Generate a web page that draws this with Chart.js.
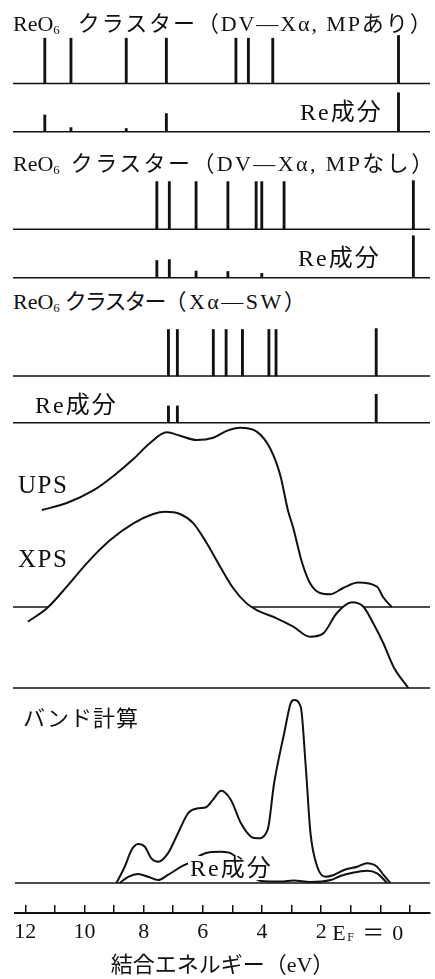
<!DOCTYPE html>
<html>
<head>
<meta charset="utf-8">
<script src="https://cdn.jsdelivr.net/npm/chart.js@4.4.0/dist/chart.umd.min.js"></script>
<style>
  body { margin: 0; background: #fff; }
  #fig { position: relative; width: 435px; height: 979px; overflow: hidden; background: #fff; }
  #fig canvas { position: absolute; left: 0; }
  .lbl { position: absolute; z-index: 2; white-space: nowrap; color: #111;
         font: 22px/22px 'Liberation Serif', 'Noto Sans CJK JP', serif; }
  .lbl sub { font-size: 13px; vertical-align: baseline; position: relative; top: 3px; }
  .big { font-size: 25px; line-height: 25px; letter-spacing: 1.5px; }
  .re { font-size: 24px; line-height: 24px; letter-spacing: 2px; }
</style>
</head>
<body>
<div id="fig">
  <canvas id="cDvMp"></canvas>
  <canvas id="cDvMpRe"></canvas>
  <canvas id="cDvNo"></canvas>
  <canvas id="cDvNoRe"></canvas>
  <canvas id="cSw"></canvas>
  <canvas id="cSwRe"></canvas>
  <canvas id="cSpec"></canvas>
  <canvas id="cBand"></canvas>

  <div class="lbl" style="left:13px;top:13px">ReO<sub>6</sub><span style="margin-left:18px;letter-spacing:1.9px">クラスター（DV—Xα, MPあり）</span></div>
  <div class="lbl re" style="left:300px;top:100px">Re成分</div>
  <div class="lbl" style="left:13px;top:153px">ReO<sub>6</sub><span style="margin-left:11px;letter-spacing:2.4px">クラスター（DV—Xα, MPなし）</span></div>
  <div class="lbl re" style="left:298px;top:246px">Re成分</div>
  <div class="lbl" style="left:13px;top:291px">ReO<sub>6</sub><span style="margin-left:5px;letter-spacing:-2px">クラスター</span><span style="letter-spacing:2.5px">（Xα—SW）</span></div>
  <div class="lbl re" style="left:35px;top:393px">Re成分</div>
  <div class="lbl big" style="left:18px;top:472px">UPS</div>
  <div class="lbl big" style="left:18px;top:546px">XPS</div>
  <div class="lbl" style="left:23px;top:708px;letter-spacing:1px">バンド計算</div>
  <div class="lbl re" style="left:188px;top:856px;background:#fff;padding:0 2px">Re成分</div>
</div>
<script>
// binding energy axis (eV), drawn reversed: high energy on the left
const tickValues = [12, 11, 10, 9, 8, 7, 6, 5, 4, 3, 2, 1, 0, -1];
const labeledTicks = [12, 10, 8, 6, 4, 2];
const axisTitle = '結合エネルギー（eV）';

// ReO6 cluster, DV-Xα with MP
const dvMpLevels = [11.28, 10.40, 8.54, 7.19, 4.85, 4.43, 3.61, -0.62];
const dvMpTotal  = [1.00, 1.00, 1.00, 1.00, 1.00, 1.00, 1.00, 1.06];
const dvMpRe     = [0.37, 0.09, 0.07, 0.40, 0, 0, 0, 0.86];

// ReO6 cluster, DV-Xα without MP
const dvNoLevels = [7.51, 7.09, 6.19, 5.12, 4.17, 3.98, 3.23, -1.12];
const dvNoTotal  = [1.00, 1.00, 1.00, 1.00, 1.00, 1.00, 1.00, 1.02];
const dvNoRe     = [0.36, 0.38, 0.14, 0.13, 0, 0.09, 0, 0.88];

// ReO6 cluster, Xα-SW
const swLevels = [7.12, 6.82, 5.61, 5.18, 4.63, 3.74, 3.50, 0.13];
const swTotal  = [1.00, 1.00, 1.00, 1.00, 1.00, 1.00, 1.00, 1.02];
const swRe     = [0.36, 0.36, 0, 0, 0, 0, 0, 0.61];

// photoemission spectra
const upsEnergy = [11.38, 10.54, 9.65, 8.97, 8.30, 7.74, 7.18, 6.73, 6.17, 5.61, 5.16, 4.71, 4.15, 3.70, 3.36, 3.10, 2.93, 2.62, 2.36, 2.02, 1.68, 1.24, 0.74, 0.10, -0.10, -0.39];
const upsIntensity = [0.541, 0.580, 0.650, 0.731, 0.825, 0.915, 0.974, 0.955, 0.931, 0.944, 0.982, 1.0, 0.978, 0.885, 0.736, 0.54, 0.446, 0.245, 0.134, 0.078, 0.071, 0.106, 0.136, 0.113, 0.056, 0];
const xpsEnergy = [11.85, 11.21, 10.54, 9.87, 9.08, 8.30, 7.63, 7.23, 6.73, 6.28, 5.83, 5.38, 4.94, 4.49, 4.15, 3.48, 2.92, 2.36, 1.91, 1.46, 0.95, 0.56, 0.23, -0.11, -0.45, -0.95];
const xpsIntensity = [0.376, 0.452, 0.575, 0.707, 0.839, 0.934, 0.987, 1.0, 0.987, 0.934, 0.821, 0.688, 0.566, 0.480, 0.442, 0.395, 0.348, 0.291, 0.310, 0.424, 0.486, 0.461, 0.367, 0.254, 0.121, 0];

// band calculation: total DOS and Re component
const bandEnergy = [8.92, 8.64, 8.41, 8.19, 7.96, 7.74, 7.51, 7.18, 6.84, 6.50, 6.17, 5.89, 5.66, 5.38, 5.05, 4.71, 4.37, 4.15, 3.81, 3.59, 3.25, 3.03, 2.92, 2.69, 2.52, 2.36, 2.13, 1.85, 1.57, 1.23, 0.78, 0.45, 0.11, -0.11, -0.34];
const bandTotal = [0, 0.089, 0.180, 0.213, 0.198, 0.135, 0.116, 0.162, 0.272, 0.381, 0.408, 0.414, 0.454, 0.504, 0.454, 0.326, 0.253, 0.244, 0.290, 0.545, 0.818, 0.982, 1.0, 0.963, 0.636, 0.272, 0.089, 0.034, 0.044, 0.071, 0.089, 0.108, 0.089, 0.044, 0];
const reEnergy = [8.81, 8.52, 8.19, 7.85, 7.51, 7.18, 6.73, 6.39, 6.06, 5.72, 5.38, 5.05, 4.71, 4.37, 4.04, 3.36, 2.93, 2.36, 1.68, 1.35, 1.01, 0.45, 0.11, -0.23];
const reIntensity = [0, 0.034, 0.049, 0.034, 0.016, 0.044, 0.089, 0.116, 0.153, 0.169, 0.171, 0.162, 0.115, 0.049, 0.011, 0.008, 0.014, 0.005, 0.016, 0.038, 0.053, 0.067, 0.053, 0];

// ---- layout (pixels) ----
const E_LEFT = 12.35, E_RIGHT = -1.68;
const INK = '#111';
const FONT = "'Liberation Serif', 'Noto Sans CJK JP', serif";

const gDvMp   = { top: 32,  bottom: 88,  zero: 83.5,  unit: 45.3 };
const gDvMpRe = { top: 88,  bottom: 136, zero: 131.7, unit: 45.3 };
const gDvNo   = { top: 176, bottom: 234, zero: 229.3, unit: 47.7 };
const gDvNoRe = { top: 234, bottom: 282, zero: 277.7, unit: 47.7 };
const gSw     = { top: 325, bottom: 380, zero: 376,   unit: 46.5 };
const gSwRe   = { top: 380, bottom: 427, zero: 422.7, unit: 46.5 };
const gSpec   = { top: 420, bottom: 692, upsZero: 607, upsUnit: 179.3, xpsZero: 688, xpsUnit: 176.3 };
const gBand   = { top: 690, bottom: 979, zero: 883, unit: 183, axisLine: 913 };

function place(id, top, bottom) {
  const c = document.getElementById(id);
  c.width = 435;
  c.height = bottom - top;
  c.style.top = top + 'px';
  return c;
}

function yRange(zero, unit, top, bottom) {
  return { display: false, min: -(bottom - zero) / unit, max: (zero - top) / unit };
}

function pts(xs, ys) {
  return xs.map((x, i) => ({ x: x, y: ys[i] }));
}

function baseline(axis, order) {
  return {
    type: 'line', data: [{ x: E_LEFT, y: 0 }, { x: E_RIGHT, y: 0 }],
    borderColor: INK, borderWidth: 1.6, pointRadius: 0, yAxisID: axis, order: order || 0
  };
}

function curve(xs, ys, axis, order) {
  return {
    type: 'line', data: pts(xs, ys), yAxisID: axis, order: order,
    borderColor: INK, borderWidth: 2, pointRadius: 0,
    cubicInterpolationMode: 'monotone', fill: false
  };
}

function common(scales, x) {
  return {
    responsive: false,
    animation: false,
    events: [],
    layout: { padding: { left: 13, right: 5, top: 0, bottom: 0 } },
    plugins: { legend: { display: false }, tooltip: { enabled: false } },
    scales: Object.assign({
      x: Object.assign({ type: 'linear', reverse: true, min: E_RIGHT, max: E_LEFT, offset: false, display: false }, x || {})
    }, scales)
  };
}

function sticks(id, g, levels, heights) {
  const c = place(id, g.top, g.bottom);
  new Chart(c, {
    type: 'bar',
    data: {
      datasets: [
        { type: 'bar', data: pts(levels, heights), backgroundColor: INK, borderWidth: 0, barThickness: 2.2, order: 1 },
        baseline('y', 0)
      ]
    },
    options: common({ y: yRange(g.zero, g.unit, g.top, g.bottom) })
  });
}

sticks('cDvMp', gDvMp, dvMpLevels, dvMpTotal);
sticks('cDvMpRe', gDvMpRe, dvMpLevels, dvMpRe);
sticks('cDvNo', gDvNo, dvNoLevels, dvNoTotal);
sticks('cDvNoRe', gDvNoRe, dvNoLevels, dvNoRe);
sticks('cSw', gSw, swLevels, swTotal);
sticks('cSwRe', gSwRe, swLevels, swRe);

// UPS / XPS: each curve on its own hidden y axis so the two baselines sit apart
const xps = curve(xpsEnergy, xpsIntensity, 'yX', 3);
xps.fill = 'origin';
xps.backgroundColor = '#fff';
new Chart(place('cSpec', gSpec.top, gSpec.bottom), {
  type: 'line',
  data: {
    datasets: [
      baseline('yU', 4),
      xps,
      baseline('yX', 2),
      curve(upsEnergy, upsIntensity, 'yU', 1)
    ]
  },
  options: common({
    yU: yRange(gSpec.upsZero, gSpec.upsUnit, gSpec.top, gSpec.bottom),
    yX: yRange(gSpec.xpsZero, gSpec.xpsUnit, gSpec.top, gSpec.bottom)
  })
});

// E_F = 0 label next to the Fermi-level tick
const fermiLabel = {
  id: 'fermiLabel',
  afterDraw(chart) {
    const ctx = chart.ctx;
    const x0 = chart.scales.x.getPixelForValue(0);
    const y = 940 - gBand.top;
    ctx.save();
    ctx.fillStyle = INK;
    ctx.textBaseline = 'alphabetic';
    ctx.textAlign = 'left';
    ctx.font = '22px ' + FONT;
    ctx.fillText('E', x0 - 48, y);
    ctx.font = '12px ' + FONT;
    ctx.fillText('F', x0 - 33, y + 1);
    ctx.font = '22px ' + FONT;
    ctx.fillText('＝', x0 - 18, y);
    ctx.fillText('0', x0 + 12, y);
    ctx.restore();
  }
};

new Chart(place('cBand', gBand.top, gBand.bottom), {
  type: 'line',
  data: {
    datasets: [
      curve(bandEnergy, bandTotal, 'y', 1),
      curve(reEnergy, reIntensity, 'y', 2),
      baseline('y', 3)
    ]
  },
  options: common({
    y: {
      display: false,
      min: -(gBand.axisLine - gBand.zero) / gBand.unit,
      max: (gBand.zero - gBand.top) / gBand.unit
    }
  }, {
    display: true,
    afterBuildTicks: (s) => { s.ticks = tickValues.map(v => ({ value: v })); },
    afterFit: (s) => { s.height = gBand.bottom - gBand.axisLine; },
    border: { display: true, color: INK, width: 2 },
    grid: { drawOnChartArea: false, drawTicks: true, tickLength: -8, color: INK, lineWidth: 1.5 },
    ticks: {
      autoSkip: false, maxRotation: 0, padding: 14, color: INK,
      font: { family: FONT, size: 22 },
      callback: (v) => labeledTicks.includes(v) ? String(v) : ''
    },
    title: { display: true, text: axisTitle, color: INK, padding: 0, font: { family: FONT, size: 22 } }
  }),
  plugins: [fermiLabel]
});
</script>
</body>
</html>
